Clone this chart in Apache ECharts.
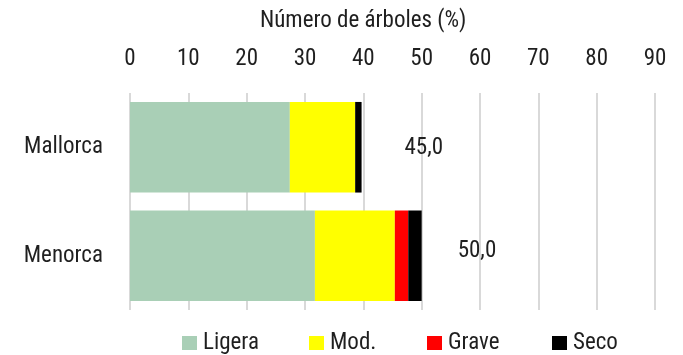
<!DOCTYPE html>
<html>
<head>
<meta charset="utf-8">
<script src="https://cdn.jsdelivr.net/npm/echarts@6/dist/echarts.min.js"></script>
<style>
  html, body { margin: 0; padding: 0; background: #fff; }
  #chart { width: 683px; height: 355px; }
</style>
</head>
<body>
<div id="chart"></div>
<script>
// Defoliation classes per island (% of trees)
const islands = ['Mallorca', 'Menorca'];
const classes = ['Ligera', 'Mod.', 'Grave', 'Seco'];
const ligera = [27.4, 31.7];
const moderada = [11.2, 13.7];
const grave = [0, 2.3];
const seco = [1.1, 2.3];
const totals = [45.0, 50.0];
const xTicks = [0, 10, 20, 30, 40, 50, 60, 70, 80, 90];

const FONT = "'Roboto Condensed', 'DejaVu Sans Condensed', 'Liberation Sans Narrow', sans-serif";
const TEXT = '#1F1F1F';
const SIZE = 23;
const COLORS = ['#A9CFB6', '#FFFF00', '#FF0000', '#000000'];

const chart = echarts.init(document.getElementById('chart'));

function stackSeries(name, data, color) {
  return {
    name: name,
    type: 'bar',
    stack: 'total',
    data: data,
    barWidth: '83.5%',
    itemStyle: { color: color },
    emphasis: { disabled: true }
  };
}

// One legend block per class so each key sits at its own spot along the bottom
const legendLeft = [182, 309, 427, 552];
const legends = classes.map((name, i) => ({
  data: [name],
  left: legendLeft[i],
  top: 331,
  padding: 0,
  itemWidth: 15,
  itemHeight: 14,
  itemGap: 0,
  icon: 'rect',
  selectedMode: false,
  textStyle: { fontFamily: FONT, fontSize: SIZE, color: TEXT, lineHeight: 24, padding: [0, 0, 0, 1] }
}));

chart.setOption({
  animation: false,
  textStyle: { fontFamily: FONT, color: TEXT },
  title: {
    text: 'Número de árboles (%)',
    left: 255,
    top: 5,
    textStyle: { fontFamily: FONT, fontSize: SIZE, fontWeight: 'normal', color: TEXT }
  },
  legend: legends,
  grid: { left: 130, right: 28, top: 93, bottom: 45, containLabel: false },
  xAxis: {
    type: 'value',
    position: 'top',
    min: xTicks[0],
    max: xTicks[xTicks.length - 1],
    interval: 10,
    axisLine: { show: false },
    axisTick: { show: false },
    axisLabel: { fontFamily: FONT, fontSize: SIZE, color: TEXT, margin: 22 },
    splitLine: { lineStyle: { color: '#D9D9D9', width: 2 } }
  },
  yAxis: {
    type: 'category',
    data: islands,
    inverse: true,
    axisLine: { show: false },
    axisTick: { show: false },
    axisLabel: { fontFamily: FONT, fontSize: SIZE, color: TEXT, margin: 27 }
  },
  series: [
    stackSeries(classes[0], ligera, COLORS[0]),
    stackSeries(classes[1], moderada, COLORS[1]),
    stackSeries(classes[2], grave, COLORS[2]),
    stackSeries(classes[3], seco, COLORS[3]),
    {
      name: 'Total',
      type: 'bar',
      barGap: '-100%',
      barWidth: '83.5%',
      silent: true,
      z: 1,
      itemStyle: { color: 'rgba(0,0,0,0)' },
      data: totals.map((v, i) => ({
        value: v,
        label: {
          show: true,
          position: 'right',
          distance: i === 0 ? 12 : 36,
          offset: i === 0 ? [0, 1] : [0, -5],
          formatter: (p) => p.value.toFixed(1).replace('.', ','),
          fontFamily: FONT,
          fontSize: SIZE,
          color: TEXT
        }
      }))
    }
  ]
});
</script>
</body>
</html>
